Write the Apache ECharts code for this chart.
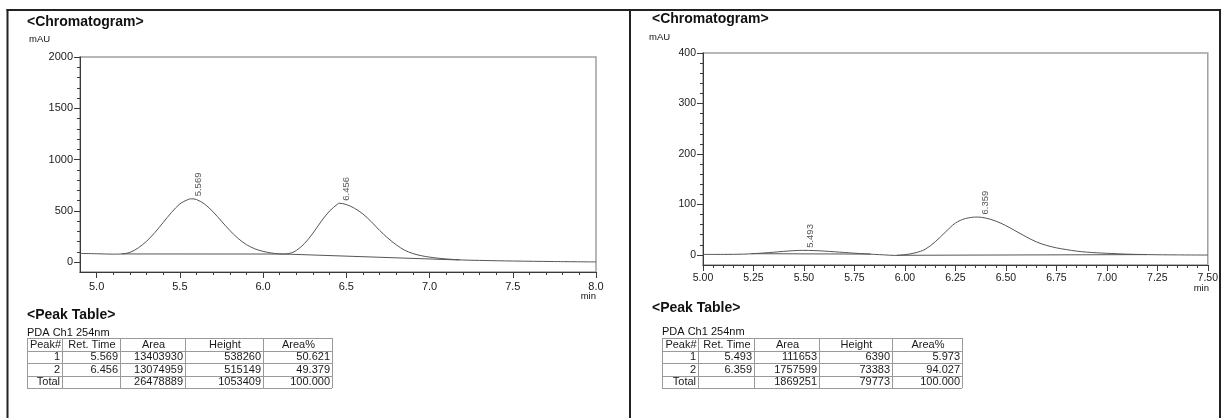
<!DOCTYPE html>
<html>
<head>
<meta charset="utf-8">
<script src="https://cdn.jsdelivr.net/npm/echarts@6/dist/echarts.min.js"></script>
<style>
  html, body { margin: 0; padding: 0; background: #fff; }
  #c { width: 1221px; height: 418px; }
</style>
</head>
<body>
<div id="c"></div>
<script>
// ---------- run A (left panel) ----------
const leftTimes  = [4.90, 5.00, 5.10, 5.15, 5.20, 5.25, 5.30, 5.35, 5.40, 5.45, 5.50, 5.55, 5.569, 5.60, 5.65, 5.70, 5.75, 5.80, 5.85, 5.90, 5.95, 6.00, 6.05, 6.10, 6.13, 6.17, 6.20, 6.25, 6.30, 6.35, 6.40, 6.45, 6.456, 6.50, 6.55, 6.60, 6.65, 6.70, 6.75, 6.80, 6.85, 6.90, 6.95, 7.00, 7.05, 7.10, 7.20, 7.30, 7.50, 7.75, 8.00];
const leftSignal = [86, 83, 79, 81, 96, 140, 205, 290, 388, 486, 568, 612, 618, 611, 565, 490, 400, 310, 232, 172, 131, 106, 90, 81, 80, 92, 115, 185, 285, 400, 500, 570, 575, 562, 525, 470, 395, 310, 235, 170, 118, 85, 64, 50, 40, 32, 22, 18, 12, 7, 3];
const leftBaseTimes  = [5.15, 6.13, 7.18];
const leftBaseValues = [81, 80, 22];
const leftPeakTimes  = [5.569, 6.456];

const leftXTicks = [5.0, 5.5, 6.0, 6.5, 7.0, 7.5, 8.0];
const leftXMinor = [5.1, 5.2, 5.3, 5.4, 5.6, 5.7, 5.8, 5.9, 6.1, 6.2, 6.3, 6.4, 6.6, 6.7, 6.8, 6.9, 7.1, 7.2, 7.3, 7.4, 7.6, 7.7, 7.8, 7.9];
const leftYTicks = [0, 500, 1000, 1500, 2000];
const leftYMinor = [100, 200, 300, 400, 600, 700, 800, 900, 1100, 1200, 1300, 1400, 1600, 1700, 1800, 1900];

// ---------- run B (right panel) ----------
const rightTimes  = [5.00, 5.10, 5.20, 5.25, 5.30, 5.35, 5.40, 5.45, 5.493, 5.55, 5.60, 5.65, 5.70, 5.75, 5.80, 5.85, 5.90, 5.95, 6.00, 6.05, 6.10, 6.15, 6.20, 6.25, 6.30, 6.359, 6.40, 6.45, 6.50, 6.55, 6.60, 6.65, 6.70, 6.75, 6.80, 6.85, 6.90, 6.95, 7.00, 7.05, 7.10, 7.20, 7.35, 7.50];
const rightSignal = [1, 1, 1.5, 2.5, 3.8, 5.3, 7, 8.4, 9, 8.6, 7.6, 6.2, 4.8, 3.4, 2.2, 1, 0, -1, 0.5, 4, 11, 26, 45, 63, 72, 75, 73, 67, 58, 47, 36, 26, 19, 14, 10.5, 7.5, 5.5, 4.2, 3.2, 2.3, 1.5, 0.6, 0, -0.3];
const rightBase1Times  = [5.24, 5.83];
const rightBase1Values = [2.4, 1.6];
const rightBase2Times  = [5.96, 7.20];
const rightBase2Values = [-0.8, 0.6];
const rightPeakTimes   = [5.493, 6.359];

const rightXTicks = [5.00, 5.25, 5.50, 5.75, 6.00, 6.25, 6.50, 6.75, 7.00, 7.25, 7.50];
const rightXMinor = [5.05, 5.10, 5.15, 5.20, 5.30, 5.35, 5.40, 5.45, 5.55, 5.60, 5.65, 5.70, 5.80, 5.85, 5.90, 5.95, 6.05, 6.10, 6.15, 6.20, 6.30, 6.35, 6.40, 6.45, 6.55, 6.60, 6.65, 6.70, 6.80, 6.85, 6.90, 6.95, 7.05, 7.10, 7.15, 7.20, 7.30, 7.35, 7.40, 7.45];
const rightYTicks = [0, 100, 200, 300, 400];
const rightYMinor = [20, 40, 60, 80, 120, 140, 160, 180, 220, 240, 260, 280, 320, 340, 360, 380];

// ---------- peak tables ----------
const tableHeader = ['Peak#', 'Ret. Time', 'Area', 'Height', 'Area%'];
const leftRows = [
  ['1', '5.569', '13403930', '538260', '50.621'],
  ['2', '6.456', '13074959', '515149', '49.379'],
  ['Total', '', '26478889', '1053409', '100.000']
];
const rightRows = [
  ['1', '5.493', '111653', '6390', '5.973'],
  ['2', '6.359', '1757599', '73383', '94.027'],
  ['Total', '', '1869251', '79773', '100.000']
];

// ---------- styling ----------
const FONT = '"Liberation Sans", Arial, Helvetica, sans-serif';
const AXIS = '#3a3a3a';
const TEXT = '#1a1a1a';
const TRACE = '#555555';

const zip = (xs, ys) => xs.map((x, i) => [x, ys[i]]);

function majorAxis(pos, gridIndex, min, max, ticks, fmt, fontSize, margin) {
  return {
    type: 'value', position: pos, gridIndex, min, max,
    axisLine: { show: true, onZero: false, lineStyle: { color: AXIS, width: 1 } },
    axisTick: { show: true, customValues: ticks, length: 6, lineStyle: { color: AXIS, width: 1 } },
    axisLabel: { show: true, customValues: ticks, formatter: fmt, fontSize, margin, color: TEXT,
                 fontFamily: FONT, showMinLabel: true, showMaxLabel: true, hideOverlap: false },
    splitLine: { show: false }
  };
}
function minorAxis(pos, gridIndex, min, max, ticks) {
  return {
    type: 'value', position: pos, gridIndex, min, max,
    axisLine: { show: false, onZero: false },
    axisTick: { show: true, customValues: ticks, length: 3, lineStyle: { color: AXIS, width: 1 } },
    axisLabel: { show: false },
    splitLine: { show: false }
  };
}

function traceSeries(xi, yi, data, smooth) {
  return {
    type: 'line', xAxisIndex: xi, yAxisIndex: yi, data, showSymbol: false, symbol: 'none',
    smooth: smooth ? 0.35 : false, lineStyle: { color: TRACE, width: 1 }, silent: true, z: 3
  };
}
function peakLabels(xi, yi, times, xs, ys) {
  return {
    type: 'scatter', xAxisIndex: xi, yAxisIndex: yi, symbolSize: 0, silent: true, z: 4,
    data: times.map(t => [t, ys[xs.indexOf(t)]]),
    label: {
      show: true, position: 'top', distance: 2.5, rotate: 90, align: 'left', verticalAlign: 'middle',
      offset: [0, 7.5], fontSize: 9.5, color: '#2a2a2a', fontFamily: FONT,
      formatter: p => p.value[0].toFixed(3)
    }
  };
}

// peak table drawn as graphic cells
function tableGraphics(cols, top, rowH, rows) {
  const els = [];
  const all = [tableHeader].concat(rows);
  const bottom = top + rowH * all.length;
  for (let r = 0; r <= all.length; r++) {
    const y = Math.round(top + r * rowH) + 0.5;
    els.push({ type: 'line', shape: { x1: cols[0], y1: y, x2: cols[cols.length - 1], y2: y },
               style: { stroke: '#9a9a9a', lineWidth: 1 }, silent: true });
  }
  cols.forEach(x => {
    els.push({ type: 'line', shape: { x1: x + 0.5, y1: top, x2: x + 0.5, y2: bottom },
               style: { stroke: '#9a9a9a', lineWidth: 1 }, silent: true });
  });
  all.forEach((row, r) => {
    const cy = top + r * rowH + rowH / 2 + 0.5;
    row.forEach((txt, c) => {
      const header = r === 0;
      els.push({
        type: 'text', silent: true,
        style: {
          text: txt, x: header ? (cols[c] + cols[c + 1]) / 2 + 1 : cols[c + 1] - 2, y: cy,
          align: header ? 'center' : 'right', verticalAlign: 'middle',
          textAlign: header ? 'center' : 'right', textVerticalAlign: 'middle',
          font: '11px ' + FONT, fill: TEXT
        }
      });
    });
  });
  return els;
}

function label(text, x, y, size, bold, align) {
  return {
    type: 'text', silent: true,
    style: { text, x, y, align: align || 'left', textAlign: align || 'left', verticalAlign: 'middle', textVerticalAlign: 'middle',
             font: (bold ? 'bold ' : '') + size + 'px ' + FONT, fill: '#111' }
  };
}

const graphics = [
  // page frame
  { type: 'line', shape: { x1: 6.5, y1: 10, x2: 1221, y2: 10 }, style: { stroke: '#222', lineWidth: 2 }, silent: true },
  { type: 'line', shape: { x1: 7.5, y1: 9, x2: 7.5, y2: 418 }, style: { stroke: '#222', lineWidth: 2 }, silent: true },
  { type: 'line', shape: { x1: 630, y1: 9, x2: 630, y2: 418 }, style: { stroke: '#222', lineWidth: 2 }, silent: true },
  { type: 'line', shape: { x1: 1220, y1: 9, x2: 1220, y2: 418 }, style: { stroke: '#222', lineWidth: 2 }, silent: true },
  // headings
  label('<Chromatogram>', 27, 22, 14, true),
  label('mAU', 29, 39, 9.5, false),
  label('min', 596, 296, 9.5, false, 'right'),
  label('<Peak Table>', 27, 315, 14, true),
  label('PDA Ch1 254nm', 27, 333, 11, false),
  label('<Chromatogram>', 652, 19, 14, true),
  label('mAU', 649, 37, 9.5, false),
  label('min', 1209, 288, 9.5, false, 'right'),
  label('<Peak Table>', 652, 308.5, 14, true),
  label('PDA Ch1 254nm', 662, 332, 11, false)
].concat(
  tableGraphics([27, 62, 120, 185, 263, 332], 338, 12.5, leftRows),
  tableGraphics([662, 698, 754, 819, 892, 962], 338, 12.5, rightRows)
);

const option = {
  animation: false,
  backgroundColor: '#fff',
  grid: [
    { left: 80, top: 57, width: 516, height: 215, show: true, borderColor: '#a0a0a0', borderWidth: 1.5, backgroundColor: 'transparent' },
    { left: 703, top: 53, width: 506, height: 212, show: true, borderColor: '#a0a0a0', borderWidth: 1.5, backgroundColor: 'transparent' }
  ],
  xAxis: [
    majorAxis('bottom', 0, 4.9, 8.0, leftXTicks, v => v.toFixed(1), 11, 9),
    minorAxis('bottom', 0, 4.9, 8.0, leftXMinor),
    majorAxis('bottom', 1, 5.0, 7.5, rightXTicks, v => v.toFixed(2), 10.5, 8),
    minorAxis('bottom', 1, 5.0, 7.5, rightXMinor)
  ],
  yAxis: [
    majorAxis('left', 0, -95, 2000, leftYTicks, v => String(v), 11, 7),
    minorAxis('left', 0, -95, 2000, leftYMinor),
    majorAxis('left', 1, -20, 400, rightYTicks, v => String(v), 10.5, 7),
    minorAxis('left', 1, -20, 400, rightYMinor)
  ],
  series: [
    traceSeries(0, 0, zip(leftTimes, leftSignal), true),
    traceSeries(0, 0, zip(leftBaseTimes, leftBaseValues), false),
    peakLabels(0, 0, leftPeakTimes, leftTimes, leftSignal),
    traceSeries(2, 2, zip(rightTimes, rightSignal), true),
    traceSeries(2, 2, zip(rightBase1Times, rightBase1Values), false),
    traceSeries(2, 2, zip(rightBase2Times, rightBase2Values), false),
    peakLabels(2, 2, rightPeakTimes, rightTimes, rightSignal)
  ],
  graphic: graphics
};

const chart = echarts.init(document.getElementById('c'), null, { renderer: 'canvas' });
chart.setOption(option);
</script>
</body>
</html>
